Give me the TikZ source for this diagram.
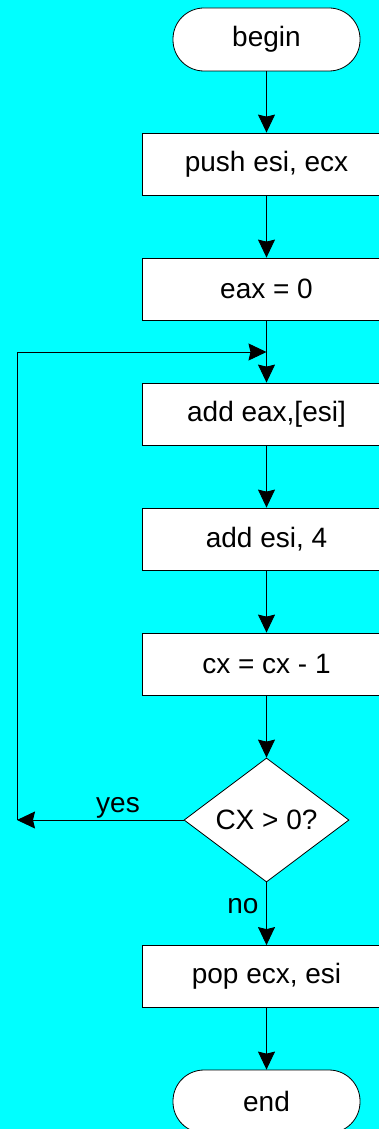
\documentclass[tikz,border=0pt]{standalone}
\usepackage{fontspec}
\setmainfont{Liberation Sans}
\usetikzlibrary{shapes.geometric,arrows.meta}
\definecolor{bgcyan}{RGB}{0,255,255}
\begin{document}
\begin{tikzpicture}[x=1pt,y=-1pt,
  every node/.style={font=\fontsize{28}{33}\selectfont},
  term/.style={draw=black,fill=white,rounded corners=31pt,minimum width=187pt,minimum height=63pt,inner sep=0pt,line width=0.8pt},
  procbox/.style={draw=black,fill=white,minimum width=249pt,minimum height=62pt,inner sep=0pt,line width=0.8pt},
  decision/.style={draw=black,fill=white,diamond,minimum width=165pt,minimum height=124pt,inner sep=0pt,line width=0.8pt},
  conn/.style={draw=black,line width=0.9pt,-{Stealth[length=18pt,width=17pt,inset=2pt]}},
  lbl/.style={inner sep=0pt,anchor=base}]
\fill[bgcyan] (0,0) rectangle (379,1129);
\useasboundingbox (0,0) rectangle (379,1129);
\begin{scope}
\clip (0,0) rectangle (379,1129);
\node[term] (begin) at (266.5,39.5) {begin};
\node[procbox] (push) at (266.5,164) {push esi, ecx};
\node[procbox] (eax) at (266.5,289) {eax = 0};
\node[procbox] (addeax) at (266.5,414) {add eax,[esi]};
\node[procbox] (addesi) at (266.5,539) {add esi, 4};
\node[procbox] (cx) at (266.5,664) {cx = cx - 1};
\node[decision] (dec) at (266.5,820) {CX > 0?};
\node[procbox] (pop) at (266.5,976.5) {pop ecx, esi};
\node[term] (end) at (266.5,1101.5) {end};
\end{scope}
\coordinate (yesend) at (17,820);
\coordinate (loopin) at (266.5,352);
\draw[conn] (begin) -- (push);
\draw[conn] (push) -- (eax);
\draw[conn] (eax) -- (addeax);
\draw[conn] (addeax) -- (addesi);
\draw[conn] (addesi) -- (cx);
\draw[conn] (cx) -- (dec);
\draw[conn] (dec.west) -- (yesend);
\draw[conn] (yesend) |- (loopin);
\draw[conn] (dec) -- (pop);
\draw[conn] (pop) -- (end);
\node[lbl] (yes) at (118,812) {yes};
\node[lbl] (no) at (243,913) {no};
\end{tikzpicture}
\end{document}
